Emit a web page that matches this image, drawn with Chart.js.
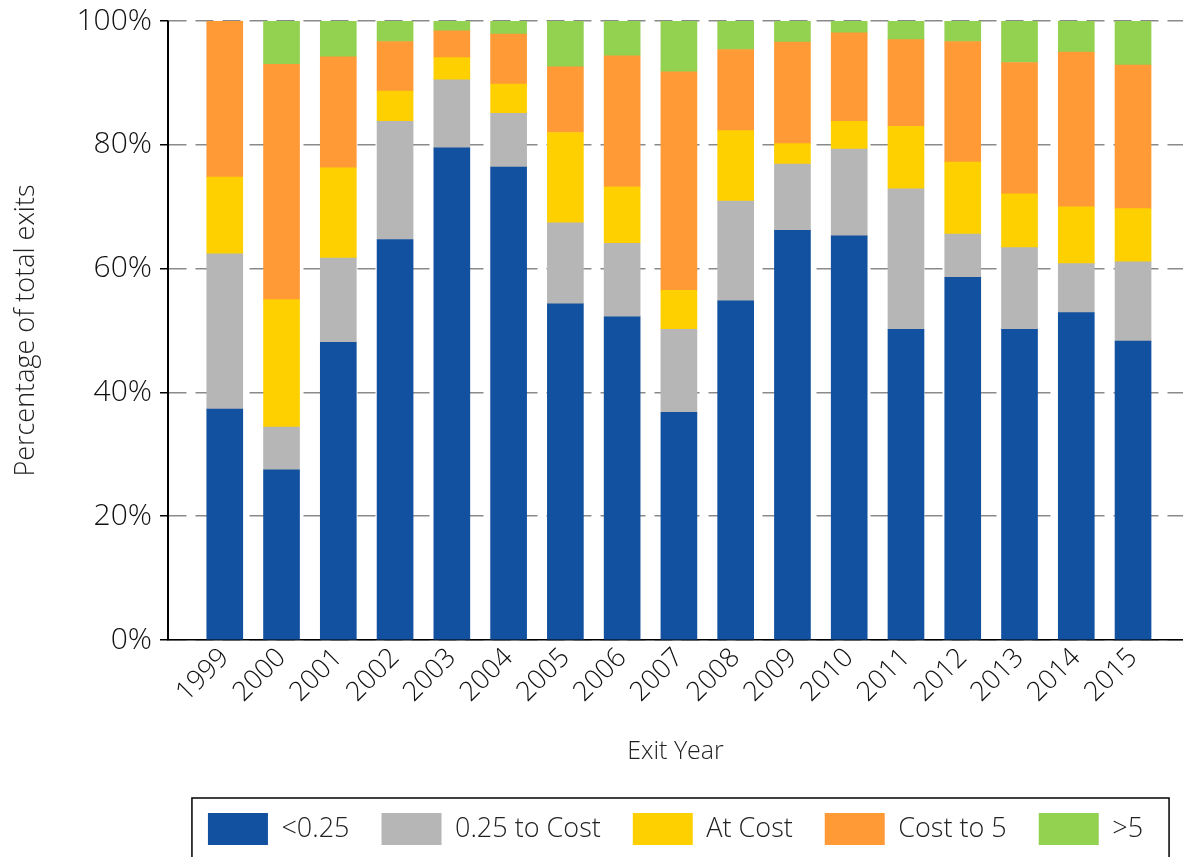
<!DOCTYPE html>
<html>
<head>
<meta charset="utf-8">
<script src="https://cdn.jsdelivr.net/npm/chart.js@4"></script>
<style>
  html, body { margin: 0; padding: 0; background: #fff; }
  #wrap { width: 1183px; height: 857px; }
</style>
</head>
<body>
<div id="wrap"><canvas id="chart"></canvas></div>
<script>
const years = ["1999","2000","2001","2002","2003","2004","2005","2006","2007","2008","2009","2010","2011","2012","2013","2014","2015"];

// shares of total exits, in percent
const below025   = [37.3, 27.5, 48.1, 64.7, 79.5, 76.4, 54.3, 52.2, 36.8, 54.8, 66.2, 65.3, 50.2, 58.6, 50.2, 52.9, 48.3];
const to025Cost  = [25.1,  6.9, 13.6, 19.1, 11.0,  8.7, 13.1, 11.9, 13.4, 16.1, 10.7, 14.0, 22.7,  7.0, 13.2,  7.9, 12.8];
const atCost     = [12.4, 20.6, 14.6,  4.9,  3.6,  4.7, 14.6,  9.1,  6.3, 11.4,  3.3,  4.5, 10.1, 11.6,  8.7,  9.2,  8.6];
const costTo5    = [25.2, 38.0, 17.9,  8.0,  4.3,  8.1, 10.6, 21.2, 35.3, 13.1, 16.4, 14.3, 14.0, 19.5, 21.2, 25.0, 23.2];
const above5     = [ 0.0,  7.0,  5.8,  3.3,  1.6,  2.1,  7.4,  5.6,  8.2,  4.6,  3.4,  1.9,  3.0,  3.3,  6.7,  5.0,  7.1];

const yTicks = [0, 20, 40, 60, 80, 100];

const FONT = "'Open Sans', 'DejaVu Sans', sans-serif";
const X_MIN = 1998;

/* solid y axis line + frame round the legend */
const frames = {
  id: "frames",
  afterDraw(chart){
    const c = chart.ctx;
    const area = chart.chartArea;
    c.save();
    c.fillStyle = "#000";
    c.fillRect(Math.round(area.left) - 1, area.top, 2, area.bottom - area.top);

    const lg = chart.legend;
    if (lg && lg.legendHitBoxes.length){
      const hb = lg.legendHitBoxes;
      const last = hb[hb.length - 1];
      const x0 = hb[0].left - 16;
      const x1 = last.left + last.width + 26;
      const y0 = hb[0].top - 15;
      c.strokeStyle = "#000";
      c.lineWidth = 1.5;
      c.strokeRect(x0, y0, x1 - x0, 100);
    }
    c.restore();
  }
};

function ds(label, data, color){
  return { label, data, backgroundColor: color, borderWidth: 0, barThickness: 36 };
}

const isAxisTick = ctx => ctx.tick && ctx.tick.value === X_MIN;

new Chart(document.getElementById("chart"), {
  type: "bar",
  data: {
    labels: years,
    datasets: [
      ds("<0.25", below025, "#1251a0"),
      ds("0.25 to Cost", to025Cost, "#b6b6b6"),
      ds("At Cost", atCost, "#ffd000"),
      ds("Cost to 5", costTo5, "#ff9a36"),
      ds(">5", above5, "#93d150")
    ]
  },
  options: {
    responsive: true,
    maintainAspectRatio: false,
    animation: false,
    layout: { padding: { top: 17, right: 0, bottom: 2, left: 0 } },
    plugins: {
      tooltip: { enabled: false },
      legend: {
        position: "bottom",
        fullSize: false,
        labels: { boxWidth: 60, boxHeight: 32, padding: 32, color: "#222", font: { family: FONT, size: 27, weight: 300 } }
      }
    },
    scales: {
      x: {
        type: "linear", stacked: true, offset: false, min: X_MIN, max: 2015.88,
        afterFit(s){ s.height = 141; },
        afterBuildTicks(s){ s.ticks = [X_MIN].concat(years.map(Number)).map(v => ({ value: v })); },
        grid: {
          display: true,
          offset: false,
          drawTicks: false,
          color: ctx => isAxisTick(ctx) ? "#000" : "rgba(0,0,0,0)",
          lineWidth: ctx => isAxisTick(ctx) ? 2 : 0
        },
        border: { color: "#000", width: 1.5 },
        ticks: { autoSkip: false, minRotation: 45, maxRotation: 45, padding: 2, color: "#111",
          font: { family: FONT, size: 27, weight: 300 },
          callback: v => v === X_MIN ? "" : String(v) },
        title: { display: true, text: "Exit Year", color: "#222", padding: { top: 0, bottom: 14 }, font: { family: FONT, size: 25, weight: 300 } }
      },
      y: {
        stacked: true, min: 0, max: 100,
        afterFit(s){ s.width = 168; },
        afterBuildTicks(s){ s.ticks = yTicks.map(v => ({ value: v })); },
        border: { display: true, color: "#000", width: 1.5, dash: [18, 9] },
        grid: { color: "#8a8a8a", lineWidth: 1.5, tickLength: 8, tickColor: "#000", tickBorderDash: [] },
        ticks: { padding: 8, color: "#111", font: { family: FONT, size: 30, weight: 300, lineHeight: 0.87 }, callback: v => v + "%" },
        title: { display: true, text: "Percentage of total exits", color: "#222", padding: { top: 10, bottom: 0 }, font: { family: FONT, size: 27, weight: 300 } }
      }
    }
  },
  plugins: [frames]
});
</script>
</body>
</html>
